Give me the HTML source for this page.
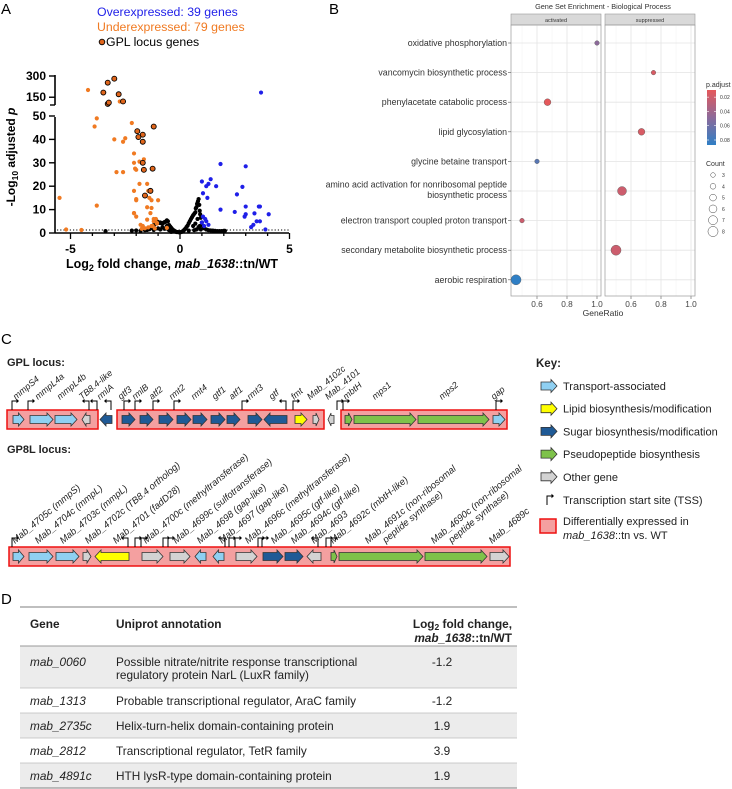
<!DOCTYPE html>
<html><head><meta charset="utf-8">
<style>
html,body{margin:0;padding:0;background:#fff;}
svg{display:block;font-family:"Liberation Sans",Arial,sans-serif;}
</style></head>
<body>
<svg id="fig" width="732" height="789" viewBox="0 0 732 789" xmlns="http://www.w3.org/2000/svg">
<g font-size="15" fill="#000">
<text x="1" y="14">A</text>
<text x="329" y="14">B</text>
<text x="1" y="344">C</text>
<text x="1" y="604">D</text>
</g>
<!-- Panel A -->
<g id="volcano">
<g font-size="12.3">
<text x="97" y="16" fill="#1f1fe8">Overexpressed: 39 genes</text>
<text x="97" y="31" fill="#f07a22">Underexpressed: 79 genes</text>
<circle cx="102" cy="42" r="2.8" fill="#e0661c" stroke="#000" stroke-width="0.9"/>
<text x="106" y="46" fill="#000">GPL locus genes</text>
</g>
<text transform="translate(15,157) rotate(-90)" text-anchor="middle" font-size="12" font-weight="bold">-Log<tspan font-size="8.5" dy="3">10</tspan><tspan dy="-3"> adjusted </tspan><tspan font-style="italic">p</tspan></text>
<text x="172" y="268" text-anchor="middle" font-size="12.5" font-weight="bold">Log<tspan font-size="9" dy="3">2</tspan><tspan dy="-3"> fold change, </tspan><tspan font-style="italic">mab_1638</tspan>::tn/WT</text>
<g id="vaxes"></g>
<g id="vpoints"></g>
</g>
<!-- Panel B -->
<g id="gsea">
<text x="603" y="9" text-anchor="middle" font-size="7.3" fill="#333">Gene Set Enrichment - Biological Process</text>
<g id="bgrid"></g>
<g id="bpoints"></g>
<text x="603" y="316" text-anchor="middle" font-size="8.5" fill="#333">GeneRatio</text>
<g id="blegend"></g>
</g>
<!-- Panel C -->
<g id="loci">
<text x="7" y="366" font-size="11" font-weight="bold" fill="#222">GPL locus:</text>
<text x="7" y="453" font-size="11" font-weight="bold" fill="#222">GP8L locus:</text>
<g id="cgpl"></g>
<g id="cgp8l"></g>
<g id="ckey">
<text x="536" y="367" font-size="11.5" font-weight="bold" fill="#222">Key:</text>
</g>
</g>
<!-- Panel D -->
<g id="table" font-size="11.8" fill="#222">
<rect x="20" y="646" width="497" height="42" fill="#ececec"/>
<rect x="20" y="713" width="497" height="25" fill="#ececec"/>
<rect x="20" y="763" width="497" height="25" fill="#ececec"/>
<line x1="20" y1="607" x2="517" y2="607" stroke="#999" stroke-width="1.2"/>
<line x1="20" y1="646" x2="517" y2="646" stroke="#999" stroke-width="1"/>
<line x1="20" y1="688" x2="517" y2="688" stroke="#bbb" stroke-width="0.8"/>
<line x1="20" y1="713" x2="517" y2="713" stroke="#bbb" stroke-width="0.8"/>
<line x1="20" y1="738" x2="517" y2="738" stroke="#bbb" stroke-width="0.8"/>
<line x1="20" y1="763" x2="517" y2="763" stroke="#bbb" stroke-width="0.8"/>
<line x1="20" y1="788" x2="517" y2="788" stroke="#999" stroke-width="1.2"/>
<text x="30" y="628" font-weight="bold">Gene</text>
<text x="116" y="628" font-weight="bold">Uniprot annotation</text>
<text x="512" y="628" text-anchor="end" font-weight="bold">Log<tspan font-size="8.5" dy="2">2</tspan><tspan dy="-2"> fold change,</tspan></text>
<text x="512" y="642" text-anchor="end" font-weight="bold"><tspan font-style="italic">mab_1638</tspan>::tn/WT</text>
<g font-style="italic">
<text x="30" y="666">mab_0060</text>
<text x="30" y="705">mab_1313</text>
<text x="30" y="730">mab_2735c</text>
<text x="30" y="755">mab_2812</text>
<text x="30" y="780">mab_4891c</text>
</g>
<text x="116" y="666">Possible nitrate/nitrite response transcriptional</text>
<text x="116" y="679">regulatory protein NarL (LuxR family)</text>
<text x="116" y="705">Probable transcriptional regulator, AraC family</text>
<text x="116" y="730">Helix-turn-helix domain-containing protein</text>
<text x="116" y="755">Transcriptional regulator, TetR family</text>
<text x="116" y="780">HTH lysR-type domain-containing protein</text>
<g text-anchor="middle">
<text x="442" y="666">-1.2</text>
<text x="442" y="705">-1.2</text>
<text x="442" y="730">1.9</text>
<text x="442" y="755">3.9</text>
<text x="442" y="780">1.9</text>
</g>
</g>
</svg>
<script>
var NS="http://www.w3.org/2000/svg";
// ---- Panel A data ----
var upX=[-1.05,-1.2,-1.3,-1.15,-0.6,-2.0,-2.1,-2.5,-2.6,-2.9,-2.6,-2.2,-2.1,-2.1,-2.1,-2.05,-2.0,-2.0,-2.1,-2.0,-1.85,-1.85,-1.65,-1.5,-1.45,-1.4,-1.3,-1.0,-1.5,-1.3,-1.35,-1.2,-1.5,-1.7,-1.8,-1.05,-5.5,-5.2,-4.5,-3.8,-3.8,-3.9,-3.0,-1.25,-1.45,-1.6,-1.1,-1.75];
var upY=[4,6,3,2,2.2,14,8.5,40.5,39,26,26,47,34,30,18,27.5,27,14.5,8.5,7,30.5,21,31.5,21,18,15,14,14,11,10.7,8.5,5,5.7,3,3.5,4.3,15,1.5,1.3,11.7,49,45.5,40,3,2.4,2,6,1.8];
var upHighX=[-4.2,-2.75];
var upHighY=[201,120];
var gplX=[-1.2,-1.95,-1.7,-1.9,-1.7,-1.7,-1.65,-1.25,-1.6,-1.35];
var gplY=[45.5,43.5,42,41,39,30,27,27.5,16,18];
var gplHighX=[-3.0,-3.3,-3.5,-2.8,-2.6,-3.3,-3.25];
var gplHighY=[281,253,183,171,120,103,112];
var downX=[1.85,3.0,1.0,1.4,1.3,1.2,1.65,1.05,1.25,1.85,2.6,2.85,3.0,2.5,2.95,3.0,3.4,3.6,3.65,4.05,3.5,3.65,3.25,3.35,3.9,1.05,1.15,1.3,1.1,1.2,1.0];
var downY=[29.5,28.5,22,23,21,20,20,17,15,10,16.5,19.7,11.3,9,7,8,8.4,11.3,11.3,8,5,5,2.5,3.5,1.5,7,6,3.5,3,5,4.5];
var downHighX=[3.7];
var downHighY=[183];
var nsX=[-3.4,-2.2,-2.0,-1.8,-1.6,-1.5,-1.4,-1.3,-1.25,-1.2,-1.15,-1.1,-1.05,-1.0,-0.95,-0.9,-0.85,-0.8,-0.75,-0.7,-0.65,-0.6,-0.55,-0.5,-0.45,-0.4,-0.35,-0.3,-0.25,-0.2,-0.15,-0.1,-0.05,0,0.05,0.1,0.15,0.2,0.25,0.3,0.35,0.4,0.45,0.5,0.55,0.6,0.65,0.7,0.72,0.75,0.78,0.8,0.82,0.85,0.88,0.9,0.92,0.95,1.0,1.05,1.1,1.2,1.3,1.4,1.5,1.6,1.7,1.8,1.9,2.0,2.05,-1.0,-0.8,-0.6,-0.9,-0.7,-0.5,0.6,0.7,0.8,0.9,0.65,0.75,0.85,-1.2,-0.4,0.4,0.95];
var nsY=[0.8,1,1.1,0.9,1.2,1.3,1.6,2.2,2.8,3.3,3.8,4.6,5,4.6,4.3,4.5,4.2,4.1,4.4,4.7,4.8,5.4,5,3.4,2.8,2.2,1.6,1.2,0.9,0.6,0.4,0.4,0.3,0.3,0.4,0.6,0.9,1.4,1.9,2.6,3.2,4.2,5.1,6,6.8,7.6,8.2,8.8,10.5,11,12.4,12.8,13.5,14.5,12,9.5,8,6.5,4.5,3,2,1.5,1.2,1.1,1,0.9,0.8,0.8,0.8,0.9,0.9,2,2.5,3,1.5,1.8,1.2,3,4,6,3,1.2,1.5,2.5,1.3,0.5,1,1.5];
var xTicks=[-5,0,5];
var yLowTicks=[0,10,20,30,40,50];
var yHighTicks=[150,300];
var sigLine=[1.3];

function sx(v){return 180+v*21.9;}
function syL(v){return 233-v*2.34;}
function syH(v){return 104.3-(v-100)*0.1415;}
function mk(tag,attrs,parent){var e=document.createElementNS(NS,tag);for(var k in attrs)e.setAttribute(k,attrs[k]);parent.appendChild(e);return e;}

(function(){
var ax=document.getElementById('vaxes');
var l=mk('line',{x1:55,y1:233,x2:55,y2:117,stroke:'#000','stroke-width':1.6},ax);


l=mk('line',{x1:55,y1:105,x2:55,y2:75,stroke:'#000','stroke-width':1.6},ax);


mk('line',{x1:50,y1:105,x2:55,y2:105,stroke:'#000','stroke-width':1.4},ax);
l=mk('line',{x1:55,y1:233,x2:289,y2:233,stroke:'#000','stroke-width':1.6},ax);


for(var v=-5;v<=5;v++){mk('line',{x1:sx(v),y1:233,x2:sx(v),y2:xTicks.indexOf(v)>=0?239:236,stroke:'#000','stroke-width':1.3},ax);}
xTicks.forEach(function(t){var e=mk('text',{x:sx(t),y:253,'text-anchor':'middle','font-size':12,'font-weight':'bold'},ax);e.textContent=t;

});
yLowTicks.forEach(function(t){mk('line',{x1:49,y1:syL(t),x2:55,y2:syL(t),stroke:'#000','stroke-width':1.4},ax);
var e=mk('text',{x:46,y:syL(t)+4,'text-anchor':'end','font-size':12,'font-weight':'bold'},ax);e.textContent=t;

});
yHighTicks.forEach(function(t){mk('line',{x1:49,y1:syH(t),x2:55,y2:syH(t),stroke:'#000','stroke-width':1.4},ax);
var e=mk('text',{x:46,y:syH(t)+4,'text-anchor':'end','font-size':12,'font-weight':'bold'},ax);e.textContent=t;

});
var dl=mk('line',{x1:57,y1:syL(sigLine[0]),x2:289,y2:syL(sigLine[0]),stroke:'#000','stroke-width':1,'stroke-dasharray':'1.2,2'},ax);


var g=document.getElementById('vpoints');
function pts(X,Y,hi,fill,stroke,r,name){for(var i=0;i<X.length;i++){var c=mk('circle',{cx:sx(X[i]),cy:hi?syH(Y[i]):syL(Y[i]),r:r,fill:fill},g);
if(stroke){c.setAttribute('stroke','#000');c.setAttribute('stroke-width','0.9');}

}}
pts(nsX,nsY,false,'#000',null,2.1,'point-not-significant');
pts(upX,upY,false,'#f07a22',null,2.1,'point-underexpressed');
pts(upHighX,upHighY,true,'#f07a22',null,2.1,'point-underexpressed');
pts(downX,downY,false,'#1f1fe8',null,2.1,'point-overexpressed');
pts(downHighX,downHighY,true,'#1f1fe8',null,2.1,'point-overexpressed');
pts(gplX,gplY,false,'#e0661c',true,2.5,'point-gpl-gene');
pts(gplHighX,gplHighY,true,'#e0661c',true,2.5,'point-gpl-gene');
})();

// ---- Panel B data ----
var terms=["oxidative phosphorylation","vancomycin biosynthetic process","phenylacetate catabolic process","lipid glycosylation","glycine betaine transport","amino acid activation for nonribosomal peptide|biosynthetic process","electron transport coupled proton transport","secondary metabolite biosynthetic process","aerobic respiration"];
var termPanel=[0,1,0,1,0,1,0,1,0];
var geneRatio=[1.0,0.75,0.67,0.67,0.6,0.54,0.5,0.5,0.46];
var pAdjust=[0.05,0.02,0.015,0.02,0.07,0.025,0.025,0.025,0.085];
var countVals=[3,3,5,5,3,7,3,8,8];
var panelNames=["activated","suppressed"];
var ratioTicks=[0.6,0.8,1.0];
var countLegend=[3,4,5,6,7,8];
var pTicks=[0.02,0.04,0.06,0.08];

var panelLeft=[511,605],panelW=90,pTop=25,pBot=296;
function bx(p,v){return panelLeft[p]+26+(v-0.6)*150;}
function by(i){return 43+i*29.6;}
function rad(c){return 2.3+(c-3)*0.55;}
function lerp(a,b,t){return a.map(function(x,i){return Math.round(x+(b[i]-x)*t);});}
function pcol(p){var red=[229,88,91],pur=[140,106,154],blu=[47,127,197];var t;
if(p<=0.05){t=Math.max(0,(p-0.015)/0.035);return 'rgb('+lerp(red,pur,t)+')';}
t=Math.min(1,(p-0.05)/0.035);return 'rgb('+lerp(pur,blu,t)+')';}
(function(){
var g=document.getElementById('bgrid');
panelNames.forEach(function(nm,p){
var L=panelLeft[p];
var s=mk('rect',{x:L,y:14,width:panelW,height:11,fill:'#d9d9d9',stroke:'#999','stroke-width':0.6},g);


var t=mk('text',{x:L+panelW/2,y:22,'text-anchor':'middle','font-size':5.5,fill:'#333'},g);t.textContent=nm;


for(var v=0.5;v<=1.01;v+=0.1){mk('line',{x1:bx(p,v),y1:pTop,x2:bx(p,v),y2:pBot,stroke:'#f0f0f0','stroke-width':0.5},g);}
ratioTicks.forEach(function(v){mk('line',{x1:bx(p,v),y1:pTop,x2:bx(p,v),y2:pBot,stroke:'#e4e4e4','stroke-width':0.8},g);
mk('line',{x1:bx(p,v),y1:pBot,x2:bx(p,v),y2:pBot+3,stroke:'#555','stroke-width':0.6},g);
var e=mk('text',{x:bx(p,v),y:pBot+11,'text-anchor':'middle','font-size':8.3,fill:'#444'},g);e.textContent=v.toFixed(1);

});
terms.forEach(function(tn,i){mk('line',{x1:L,y1:by(i),x2:L+panelW,y2:by(i),stroke:'#e4e4e4','stroke-width':0.8},g);});
var fr=mk('rect',{x:L,y:pTop,width:panelW,height:pBot-pTop,fill:'none',stroke:'#999','stroke-width':0.7},g);


});
terms.forEach(function(tn,i){
mk('line',{x1:508,y1:by(i),x2:511,y2:by(i),stroke:'#555','stroke-width':0.6},g);
var parts=tn.split('|');
parts.forEach(function(pt,j){var e=mk('text',{x:507,y:by(i)+3+(parts.length>1?(j*10.5-6.5):0),'text-anchor':'end','font-size':8.8,fill:'#333'},g);e.textContent=pt;

});
});
var pg=document.getElementById('bpoints');
terms.forEach(function(tn,i){var c=mk('circle',{cx:bx(termPanel[i],geneRatio[i]),cy:by(i),r:rad(countVals[i]),fill:pcol(pAdjust[i]),stroke:'#555','stroke-width':0.4},pg);

});
var lg=document.getElementById('blegend');
var t=mk('text',{x:706,y:87,'font-size':7,fill:'#333'},lg);t.textContent='p.adjust';


var defs=mk('defs',{},lg);var gr=mk('linearGradient',{id:'pg',x1:0,y1:0,x2:0,y2:1},defs);
mk('stop',{offset:'0','stop-color':pcol(0.015)},gr);mk('stop',{offset:'0.5','stop-color':pcol(0.05)},gr);mk('stop',{offset:'1','stop-color':pcol(0.085)},gr);
var cb=mk('rect',{x:707,y:90,width:9,height:55,fill:'url(#pg)'},lg);


pTicks.forEach(function(p){var y=90+(p-0.01)/0.077*55;
mk('line',{x1:707,y1:y,x2:709,y2:y,stroke:'#fff','stroke-width':0.6},lg);mk('line',{x1:714,y1:y,x2:716,y2:y,stroke:'#fff','stroke-width':0.6},lg);
var e=mk('text',{x:720,y:y+2,'font-size':5,fill:'#333'},lg);e.textContent=p.toFixed(2);

});
t=mk('text',{x:706,y:166,'font-size':7,fill:'#333'},lg);t.textContent='Count';


countLegend.forEach(function(c,i){var y=175+i*11.3;
var ci=mk('circle',{cx:713,cy:y,r:rad(c),fill:'none',stroke:'#444','stroke-width':0.5},lg);


var e=mk('text',{x:722,y:y+2,'font-size':5,fill:'#333'},lg);e.textContent=c;

});
})();

// ---- Panel C data ----
var COL={t:'#8fd0f2',l:'#ffff00',s:'#1f5a96',p:'#7ec24a',o:'#d3d3d3'};
var gplNames=["mmpS4","mmpL4a","mmpL4b","TB8.4-like","rmlA","gtf3","rmlB","atf2","rmt2","rmt4","gtf1","atf1","rmt3","gtf","fmt","Mab_4102c","Mab_4101","mbtH","mps1","mps2","gap"];
var gplStart=[13,30,55,82,100,122,140,159,177,193,211,227,248,264,295,313,328,345,354,418,493];
var gplEnd=[24,53,77,90,112,135,153,173,191,207,225,240,262,287,307,319,334,352,416,489,505];
var gplDir=[1,1,1,-1,-1,1,1,1,1,1,1,1,1,-1,1,1,-1,1,1,1,1];
var gplCls=["t","t","t","o","s","s","s","s","s","s","s","s","s","s","l","o","o","p","p","p","t"];
var gplLabelX=[16,38,60,82,100,121,135,152,172,194,215,232,250,272,294,310,328,346,375,442,494];
var gplBoxes=[[7,98],[117,324],[341,507]];
var gplTss=[[12,1],[28,1],[89,-1],[97,-1],[111,-1],[124,1],[135,1],[153,1],[174,1],[242,1],[286,-1],[293,1],[337,1],[343,1],[496,1]];
var g8Names=["Mab_4705c (mmpS)","Mab_4704c (mmpL)","Mab_4703c (mmpL)","Mab_4702c (TB8.4 ortholog)","Mab_4701 (fadD28)","Mab_4700c (methyltransferase)","Mab_4699c (sulfotransferase)","Mab_4698 (gap-like)","Mab_4697 (gap-like)","Mab_4696c (methyltransferase)","Mab_4695c (gtf-like)","Mab_4694c (gtf-like)","Mab_4693","Mab_4692c (mbtH-like)","Mab_4691c (non-ribosomal|peptide synthase)","Mab_4690c (non-ribosomal|peptide synthase)","Mab_4689c"];
var g8Start=[13,29,56,83,95,142,170,195,213,236,263,285,307,331,339,425,490];
var g8End=[24,53,79,91,129,163,190,206,224,257,283,303,321,337,423,487,509];
var g8Dir=[1,1,1,1,-1,1,1,-1,-1,1,1,1,-1,1,1,1,1];
var g8Cls=["t","t","t","o","l","o","o","t","t","o","s","s","o","p","p","p","o"];
var g8LabelX=[15,38,63,88,116,146,176,200,222,248,274,294,314,333,368,434,492];
var g8Boxes=[[9,510]];
var g8Tss=[[12,1],[128,-1],[135,1],[141,1],[163,1],[168,1],[225,-1],[229,1],[235,1],[258,1],[262,1],[318,-1],[326,1],[331,1]];

function arrow(x1,x2,cy,dir,fill,parent,name){
var w=x2-x1,h=Math.min(6,w*0.5),bh=4,hh=6.5,pts;
if(dir>0){pts=[[x1,cy-bh],[x2-h,cy-bh],[x2-h,cy-hh],[x2,cy],[x2-h,cy+hh],[x2-h,cy+bh],[x1,cy+bh]];}
else{pts=[[x2,cy-bh],[x1+h,cy-bh],[x1+h,cy-hh],[x1,cy],[x1+h,cy+hh],[x1+h,cy+bh],[x2,cy+bh]];}
var p=mk('polygon',{points:pts.map(function(a){return a.join(',');}).join(' '),fill:fill,stroke:'#333','stroke-width':0.8},parent);

}
function tss(x,dir,top,parent){var yb=top,yt=top-9;
var p=mk('path',{d:'M'+x+' '+yb+' V'+yt+' H'+(x+dir*5),fill:'none',stroke:'#000','stroke-width':1},parent);


mk('polygon',{points:(x+dir*7)+','+yt+' '+(x+dir*4.5)+','+(yt-2.2)+' '+(x+dir*4.5)+','+(yt+2.2),fill:'#000'},parent);}
function locus(id,names,st,en,dir,cls,lx,boxes,tsses,top,ly,fs){
var g=document.getElementById(id);
boxes.forEach(function(b){var r=mk('rect',{x:b[0],y:top,width:b[1]-b[0],height:19,fill:'#f4a0a0',stroke:'#ee1111','stroke-width':1.5},g);

});
tsses.forEach(function(t){tss(t[0],t[1],top,g);});
names.forEach(function(n,i){arrow(st[i],en[i],top+9.5,dir[i],COL[cls[i]],g,'gene-'+n.split(' ')[0].toLowerCase());
var parts=n.split('|');
var t=mk('text',{transform:'translate('+lx[i]+','+ly+') rotate(-40)','font-size':fs,'font-style':'italic',fill:'#222'},g);
parts.forEach(function(pt,j){var ts=mk('tspan',{x:j*14,dy:j?11:0},t);ts.textContent=pt;});

});}
locus('cgpl',gplNames,gplStart,gplEnd,gplDir,gplCls,gplLabelX,gplBoxes,gplTss,410,400,9);
locus('cgp8l',g8Names,g8Start,g8End,g8Dir,g8Cls,g8LabelX,g8Boxes,g8Tss,547,544,9.5);

var keyLabels=["Transport-associated","Lipid biosynthesis/modification","Sugar biosynthesis/modification","Pseudopeptide biosynthesis","Other gene"];
var keyCls=["t","l","s","p","o"];
(function(){var g=document.getElementById('ckey');
keyLabels.forEach(function(k,i){var y=386+i*22.7;
arrow(541,557,y,1,COL[keyCls[i]],g,'key-swatch');
var t=mk('text',{x:563,y:y+4,'font-size':11,fill:'#222'},g);t.textContent=k;

});
tss(547,1,505,g);
var t=mk('text',{x:563,y:504,'font-size':11,fill:'#222'},g);t.textContent='Transcription start site (TSS)';


var r=mk('rect',{x:540,y:519,width:16,height:14,fill:'#f4a0a0',stroke:'#ee1111','stroke-width':1.5},g);


t=mk('text',{x:563,y:525,'font-size':11,fill:'#222'},g);t.textContent='Differentially expressed in';


t=mk('text',{x:563,y:539,'font-size':11,fill:'#222'},g);
var a=mk('tspan',{'font-style':'italic'},t);a.textContent='mab_1638';
var b=mk('tspan',{},t);b.textContent='::tn vs. WT';


})();
</script>
</body></html>
